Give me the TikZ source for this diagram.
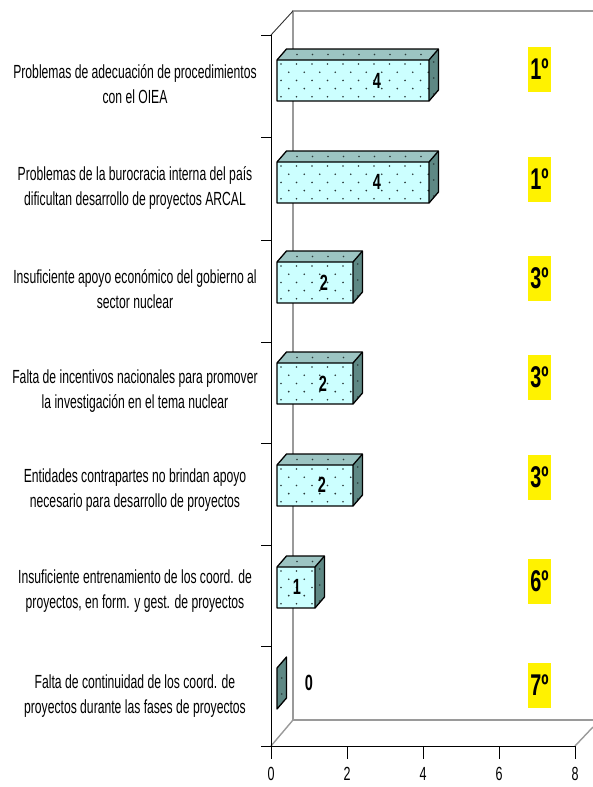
\documentclass[tikz,border=0pt]{standalone}
\usepackage{fontspec}
\setmainfont{Liberation Sans}
\newfontfamily\labfont[FakeStretch=0.64]{Liberation Sans}
\newfontfamily\numfont[FakeStretch=0.66]{Liberation Sans}
\definecolor{frontc}{HTML}{CCFFFF}
\definecolor{topc}{HTML}{9CC4C2}
\definecolor{sidec}{HTML}{5E8884}
\definecolor{wallc}{HTML}{9A9A9A}
\definecolor{dotc}{HTML}{2A3A3A}
\tikzset{
  barline/.style={draw=black, line width=1.3pt, line join=round},
  catlab/.style={align=center, inner sep=0pt, font=\labfont\fontsize{19}{25}\selectfont},
  vallab/.style={inner sep=0pt, font=\numfont\bfseries\fontsize{22}{22}\selectfont},
  rankbox/.style={fill=yellow, minimum width=23pt, minimum height=45pt, inner sep=0pt,
    font=\numfont\bfseries\fontsize{30}{30}\selectfont},
  ticklab/.style={inner sep=0pt, font=\numfont\fontsize{19}{19}\selectfont},
  wall/.style={draw=wallc, line width=1.4pt},
  axisline/.style={draw=black, line width=0.9pt},
}
% #1 = top y of front face, #2 = width in px, #3 = name
\newcommand\drawbox[3]{%
  \coordinate (#3fl) at (277,#1);
  \coordinate (#3fr) at (277+#2,#1);
  \coordinate (#3br) at (277+#2,#1+41);
  \coordinate (#3bl) at (277,#1+41);
  \coordinate (#3tl) at (286.5,#1-11);
  \coordinate (#3tr) at (286.5+#2,#1-11);
  \coordinate (#3sr) at (286.5+#2,#1+30);
  % front
  \fill[frontc] (#3fl) -- (#3fr) -- (#3br) -- (#3bl) -- cycle;
  \begin{scope}
    \clip (#3fl) -- (#3fr) -- (#3br) -- (#3bl) -- cycle;
    \foreach \r in {0,...,4}{\foreach \c in {0,...,10}{%
      \fill[dotc] ({281+\c*15.5+7.75*mod(\r,2)},{#1+4+\r*8.2}) circle (0.9);}}
  \end{scope}
  % top
  \fill[topc] (#3fl) -- (#3tl) -- (#3tr) -- (#3fr) -- cycle;
  \begin{scope}
    \clip (#3fl) -- (#3tl) -- (#3tr) -- (#3fr) -- cycle;
    \foreach \c in {0,...,10}{\fill[dotc] ({297+\c*15.5},{#1-5.5}) circle (0.9);}
  \end{scope}
  % side
  \fill[sidec] (#3fr) -- (#3tr) -- (#3sr) -- (#3br) -- cycle;
  \foreach \k in {0,1,2}{\fill[dotc] ({281.75+#2},{#1+2+\k*16}) circle (0.9);}
  \draw[barline] (#3bl) -- (#3fl) -- (#3tl) -- (#3tr) -- (#3sr) -- (#3br) -- cycle;
  \draw[barline] (#3fl) -- (#3fr) -- (#3tr) (#3fr) -- (#3br);
}
\begin{document}
\begin{tikzpicture}[x=1pt,y=-1pt]
\useasboundingbox (0,0) rectangle (593,787);
% back wall and floor
\coordinate (wtop) at (293,11);
\coordinate (wtopr) at (593,11);
\coordinate (wbot) at (293,720);
\coordinate (wbotr) at (593,720);
\coordinate (ftl) at (271,35);
\coordinate (fbl) at (271,746);
\coordinate (fbr) at (575,746);
\coordinate (fbrr) at (593,727);
\draw[wall] (wtopr) -- (wtop) -- (wbot) -- (wbotr);
\draw[wall] (fbl) -- (wbot);
\draw[wall] (fbr) -- (fbrr);
\draw[axisline,draw=black!80] (ftl) -- (wtop);
% bars
\drawbox{60}{152}{b1}
\drawbox{162}{152}{b2}
\drawbox{262}{76}{b3}
\drawbox{363}{76}{b4}
\drawbox{465}{76}{b5}
\drawbox{567}{38}{b6}
% zero bar: side face only
\coordinate (b7a) at (277,668);
\coordinate (b7b) at (286.5,657);
\coordinate (b7c) at (286.5,698);
\coordinate (b7d) at (277,709);
\fill[sidec] (b7a) -- (b7b) -- (b7c) -- (b7d) -- cycle;
\fill[dotc] (281.75,678) circle (0.9);
\fill[dotc] (281.75,694) circle (0.9);
\draw[barline] (b7a) -- (b7b) -- (b7c) -- (b7d) -- cycle;
% front axes
\draw[axisline] (ftl) -- (fbl) -- (fbr);
\foreach \y [count=\i] in {35,137,240,342,443,545,646,746}{
  \coordinate (yt\i) at (261,\y);
  \coordinate (ya\i) at (271,\y);
  \draw[axisline] (yt\i) -- (ya\i);
}
\foreach \v [count=\i] in {0,2,4,6,8}{
  \coordinate (xa\i) at (271+\v*38,746);
  \coordinate (xt\i) at (271+\v*38,759);
  \draw[axisline] (xa\i) -- (xt\i);
  \node[ticklab] (xl\i) at (271+\v*38,774) {\v};
}
% value labels
\node[vallab] (v1) at (377,81) {4};
\node[vallab] (v2) at (377,182) {4};
\node[vallab] (v3) at (324,283) {2};
\node[vallab] (v4) at (323,384) {2};
\node[vallab] (v5) at (322,485) {2};
\node[vallab] (v6) at (297,587) {1};
\node[vallab] (v7) at (309,683) {0};
% ranks
\node[rankbox] (r1) at (539.5,69.5) {1º};
\node[rankbox] (r2) at (539.5,179.5) {1º};
\node[rankbox] (r3) at (539.5,278.5) {3º};
\node[rankbox] (r4) at (539.5,377.5) {3º};
\node[rankbox] (r5) at (539.5,477.5) {3º};
\node[rankbox] (r6) at (539.5,581) {6º};
\node[rankbox] (r7) at (539.5,685) {7º};
% category labels
\node[catlab] (c1) at (135,84) {Problemas de adecuación de procedimientos\\con el OIEA};
\node[catlab] (c2) at (135,187.5) {Problemas de la burocracia interna del país\\dificultan desarrollo de proyectos ARCAL};
\node[catlab] (c3) at (135,289.5) {Insuficiente apoyo económico del gobierno al\\sector nuclear};
\node[catlab] (c4) at (135,391.5) {Falta de incentivos nacionales para promover\\la investigación en el tema nuclear};
\node[catlab] (c5) at (135,490) {Entidades contrapartes no brindan apoyo\\necesario para desarrollo de proyectos};
\node[catlab] (c6) at (135,591.5) {Insuficiente entrenamiento de los coord. de\\proyectos, en form. y gest. de proyectos};
\node[catlab] (c7) at (135,696) {Falta de continuidad de los coord. de\\proyectos durante las fases de proyectos};
\end{tikzpicture}
\end{document}
